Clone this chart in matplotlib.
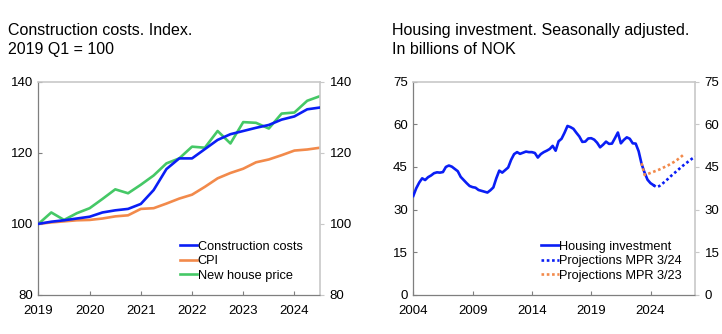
import matplotlib
matplotlib.use('Agg')

import numpy as np
import matplotlib.pyplot as plt

plt.rcParams['font.family'] = ['Liberation Sans', 'DejaVu Sans']

# Left panel: quarterly index, 2019 Q1 = 100 (2019Q1 .. 2024Q3)
costStart = 2019
constructionCosts = [100.0, 100.6, 101.0, 101.5, 102.0, 103.2, 103.8, 104.2,
                     105.6, 109.5, 115.4, 118.4, 118.4, 121.0, 123.6, 125.2,
                     126.1, 127.0, 127.8, 129.3, 130.2, 132.2, 132.7]
cpi = [100.0, 100.4, 100.7, 101.0, 101.1, 101.5, 102.1, 102.4,
       104.2, 104.4, 105.7, 107.1, 108.2, 110.4, 112.8, 114.3,
       115.5, 117.3, 118.1, 119.3, 120.6, 120.9, 121.4]
newHousePrice = [100.0, 103.2, 101.1, 103.0, 104.4, 107.0, 109.7, 108.6,
                 111.0, 113.6, 117.0, 118.4, 121.7, 121.4, 126.1, 122.6,
                 128.6, 128.4, 126.8, 131.0, 131.3, 134.6, 135.9]
costTicks = [2019, 2020, 2021, 2022, 2023, 2024]

# Right panel: housing investment, billions NOK (2004Q1 .. 2024Q2)
invStart = 2004
housingInvestment = [
    34.8, 37.5, 39.5, 41.0,   # 2004
    40.4, 41.4, 42.0, 42.8,   # 2005
    43.1, 43.0, 43.2, 45.0,   # 2006
    45.5, 45.1, 44.3, 43.5,   # 2007
    41.5, 40.4, 39.3, 38.3,   # 2008
    37.9, 37.7, 36.9, 36.6,   # 2009
    36.3, 36.0, 36.8, 37.8,   # 2010
    41.0, 43.7, 43.0, 43.9,   # 2011
    44.8, 47.5, 49.5, 50.2,   # 2012
    49.6, 50.0, 50.4, 50.2,   # 2013
    50.2, 49.9, 48.3, 49.5,   # 2014
    50.2, 50.7, 51.3, 52.4,   # 2015
    50.7, 54.0, 54.9, 57.0,   # 2016
    59.4, 59.0, 58.4, 57.0,   # 2017
    55.7, 53.8, 53.9, 55.0,   # 2018
    55.1, 54.6, 53.5, 51.9,   # 2019
    52.8, 53.9, 53.1, 53.2,   # 2020
    55.1, 57.1, 53.3, 54.5,   # 2021
    55.4, 54.9, 53.3, 53.2,   # 2022
    50.5, 46.0, 43.0, 40.5,   # 2023
    39.3, 38.6,               # 2024
]
# MPR 3/24 projections, 2024Q2 .. 2027Q4
proj324Start = 2024.25
proj324 = [38.6, 37.9, 38.3, 39.1, 40.0, 40.9, 41.9, 42.8,
           43.7, 44.6, 45.5, 46.3, 47.1, 47.9, 48.6]
# MPR 3/23 projections, 2023Q2 .. 2026Q4
proj323Start = 2023.25
proj323 = [46.3, 42.2, 42.5, 42.9, 43.3, 43.7, 44.1, 44.6,
           45.1, 45.6, 46.2, 46.8, 47.5, 48.3, 49.2]
invTicks = [2004, 2009, 2014, 2019, 2024]

BLUE = '#0a1ef5'
ORANGE = '#f28a4b'
GREEN = '#45c866'
SPINE = '#7f7f7f'
LIGHT = '#c8c8c8'


def quarters(start, n):
    return start + np.arange(n) / 4.0


def styleAxes(ax, yticks, ylim, xlim, xticks):
    ax.set_xlim(*xlim)
    ax.set_ylim(*ylim)
    ax.set_yticks(yticks)
    ax.set_xticks(xticks)
    ax.tick_params(axis='both', direction='in', length=3, color=SPINE,
                   labelsize=9.5, pad=4)
    ax.tick_params(axis='x', pad=7)
    for side in ['left', 'bottom']:
        ax.spines[side].set_color(SPINE)
        ax.spines[side].set_linewidth(0.9)
    for side in ['top', 'right']:
        ax.spines[side].set_color(LIGHT)
        ax.spines[side].set_linewidth(1.2)
    twin = ax.twinx()
    twin.set_ylim(*ylim)
    twin.set_yticks(yticks)
    twin.tick_params(axis='y', direction='out', length=3, color=LIGHT,
                     labelsize=9.5, pad=4)
    for side in twin.spines:
        twin.spines[side].set_visible(False)
    return twin


fig = plt.figure(figsize=(7.22, 3.34), dpi=100)
axL = fig.add_axes([0.0533, 0.1168, 0.3899, 0.639])
axR = fig.add_axes([0.5724, 0.1168, 0.3902, 0.639])

x = quarters(costStart, len(constructionCosts))
axL.plot(x, constructionCosts, color=BLUE, lw=1.9, label='Construction costs', zorder=3)
axL.plot(x, cpi, color=ORANGE, lw=1.9, label='CPI', zorder=2)
axL.plot(x, newHousePrice, color=GREEN, lw=1.9, label='New house price', zorder=2)
styleAxes(axL, [80, 100, 120, 140], (80, 140), (2019, 2024.5), costTicks)
axL.legend(loc='lower right', bbox_to_anchor=(0.97, 0.02), frameon=False,
           fontsize=9.2, handlelength=1.35, handletextpad=0.05,
           labelspacing=0.2, borderaxespad=0.3)

xi = quarters(invStart, len(housingInvestment))
axR.plot(xi, housingInvestment, color=BLUE, lw=1.9, label='Housing investment', zorder=3)
axR.plot(quarters(proj324Start, len(proj324)), proj324, color=BLUE, lw=1.9,
         ls=(0, (1, 1)), label='Projections MPR 3/24', zorder=3)
axR.plot(quarters(proj323Start, len(proj323)), proj323, color=ORANGE, lw=1.9,
         ls=(0, (1, 1)), label='Projections MPR 3/23', zorder=4)
styleAxes(axR, [0, 15, 30, 45, 60, 75], (0, 75), (2004, 2027.75), invTicks)
axR.legend(loc='lower right', bbox_to_anchor=(0.985, 0.02), frameon=False,
           fontsize=9.2, handlelength=1.35, handletextpad=0.05,
           labelspacing=0.2, borderaxespad=0.3)

fig.text(0.011, 0.93, 'Construction costs. Index.\n2019 Q1 = 100', fontsize=11.5,
         va='top', ha='left', linespacing=1.27)
fig.text(0.543, 0.93, 'Housing investment. Seasonally adjusted.\nIn billions of NOK',
         fontsize=11.5, va='top', ha='left', linespacing=1.27)

fig.savefig('out.png', dpi=100)
